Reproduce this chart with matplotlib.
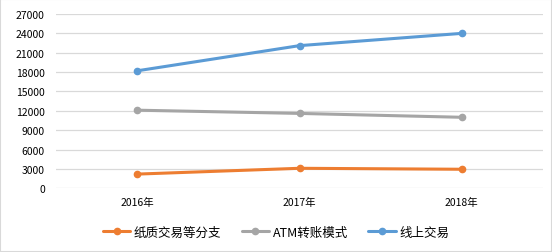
import matplotlib
matplotlib.use("Agg")
import matplotlib.pyplot as plt
from matplotlib.patches import Rectangle

plt.rcParams['font.family'] = ['Noto Sans CJK SC', 'DejaVu Sans']

categories = ["2016年", "2017年", "2018年"]
series_names = ["纸质交易等分支", "ATM转账模式", "线上交易"]
paper = [2200, 3100, 2950]
atm = [12100, 11600, 11000]
online = [18200, 22100, 24000]
yticks = [0, 3000, 6000, 9000, 12000, 15000, 18000, 21000, 24000, 27000]
colors = ["#ED7D31", "#A5A5A5", "#5B9BD5"]

fig = plt.figure(figsize=(5.52, 2.53), dpi=100)
ax = fig.add_axes([56/552, 1-189.3/253, (543-56)/552, (189.3-15)/253])

x = list(range(len(categories)))
for vals, name, c in zip([paper, atm, online], series_names, colors):
    ax.plot(x, vals, color=c, lw=2.2, marker='o', markersize=4.5, label=name,
            solid_capstyle='round')

ax.set_xlim(-0.5, len(categories)-0.5)
ax.set_ylim(0, 27000)
ax.set_yticks(yticks)
ax.set_yticklabels([str(v) for v in yticks], fontsize=7.5)
ax.set_xticks(x)
ax.set_xticklabels(categories, fontsize=7.5)
ax.grid(axis='y', color='#D9D9D9', lw=0.9)
ax.set_axisbelow(True)
for s in ax.spines.values():
    s.set_visible(False)
ax.tick_params(axis='both', length=0)
ax.tick_params(axis='y', pad=8)
ax.tick_params(axis='x', pad=6)

leg = fig.legend(loc='center', bbox_to_anchor=(0.5, 1-233/253), ncol=3, frameon=False,
                 fontsize=9, handlelength=2.2, columnspacing=1.6, handletextpad=0.3)

fig.patches.append(Rectangle((0, 0), 1, 1, transform=fig.transFigure, fill=False,
                             edgecolor='#D9D9D9', lw=1.5))
fig.savefig("out.png", dpi=100)
